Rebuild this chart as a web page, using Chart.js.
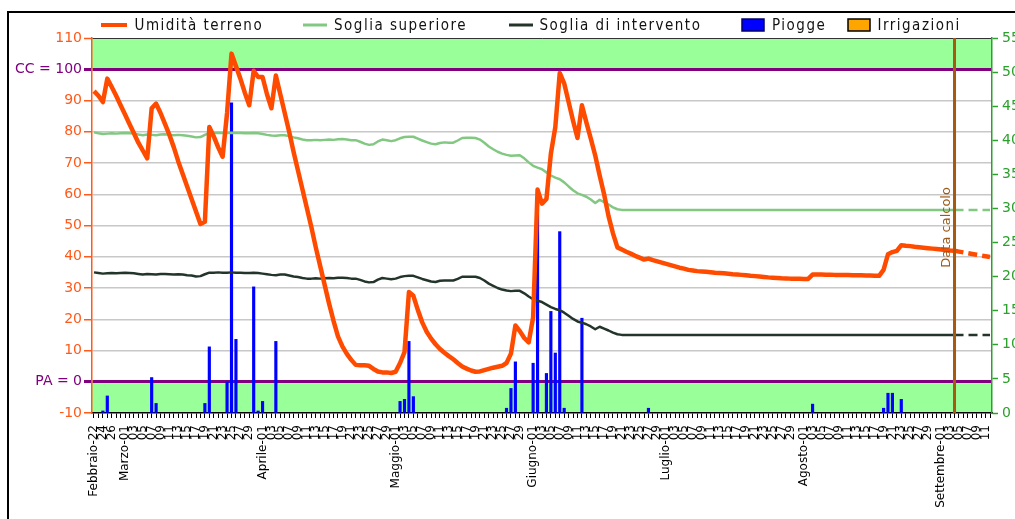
<!DOCTYPE html>
<html lang="it">
<head>
<meta charset="utf-8">
<title>Umidità terreno</title>
<script src="https://cdn.jsdelivr.net/npm/chart.js@4.4.1/dist/chart.umd.min.js"></script>
<style>
  html, body { margin:0; padding:0; background:#ffffff; overflow:hidden; }
  #wrap { position:relative; width:1015px; height:519px; }
  #chart { position:absolute; left:0; top:0; }
  #frame { position:absolute; left:7px; top:11px; width:1100px; height:600px;
           border-left:2px solid #000; border-top:2px solid #000; pointer-events:none; }
</style>
</head>
<body>
<div id="wrap">
  <canvas id="chart" width="1015" height="519"></canvas>
  <div id="frame"></div>
</div>
<script>
// ---------------- data ----------------
const startYear = 2010, startMonth = 1, startDay = 22;   // 22 Febbraio
const nDays = 203;                                         // 22 Feb .. 12 Set
const monthNames = ['Gennaio','Febbraio','Marzo','Aprile','Maggio','Giugno',
                    'Luglio','Agosto','Settembre','Ottobre','Novembre','Dicembre'];

// Umidità terreno (asse sinistro), un valore per giorno
const umidita = [
  93, 91.5, 89.5, 97, 94.3, 91.5, 88.5, 85.5, 82.5, 79.5,
  76.5, 74, 71.5, 87.5, 89, 86, 82.5, 79, 75, 70.5,
  66.5, 62.5, 58.5, 54.5, 50.5, 51.2, 81.5, 78.5, 75, 72,
  86, 105, 101, 97, 92.5, 88.5, 99.5, 97.5, 97.5, 92,
  87.5, 98, 92, 86, 80, 73.5, 67.5, 61.5, 55.5, 49.5,
  43, 37, 31, 25, 19.5, 14.5, 11.3, 8.9, 7, 5.4,
  5.3, 5.3, 5.1, 4.1, 3.3, 3, 3, 2.8, 3.2, 6,
  9.5, 28.7, 27.5, 23, 19, 16, 13.8, 12, 10.5, 9.3,
  8.2, 7.2, 6, 4.9, 4.2, 3.6, 3.2, 3.3, 3.7, 4.1,
  4.5, 4.8, 5.1, 6, 9, 18, 16.2, 14, 12.6, 20.6,
  61.5, 57, 58.5, 73, 81.5, 98.8, 95.5, 89.5, 83.5, 78,
  88.5, 83, 77.8, 72.4, 66, 60, 53, 47.5, 43, 42.3,
  41.6, 41, 40.3, 39.7, 39.1, 39.4, 38.9, 38.5, 38.1, 37.7,
  37.3, 36.9, 36.5, 36.2, 35.8, 35.6, 35.4, 35.3, 35.2, 35.05,
  34.9, 34.8, 34.7, 34.55, 34.4, 34.3, 34.2, 34.05, 33.9, 33.8,
  33.7, 33.55, 33.4, 33.3, 33.2, 33.1, 33.05, 33, 33, 32.95,
  32.9, 32.9, 34.3, 34.3, 34.3, 34.25, 34.25, 34.2, 34.2, 34.2,
  34.15, 34.1, 34.1, 34.05, 34, 34, 33.95, 33.9, 35.8, 40.8,
  41.5, 41.9, 43.7, 43.5, 43.4, 43.2, 43.05, 42.9, 42.75, 42.6,
  42.45, 42.3, 42.15, 42, 41.9, 41.65, 41.4, 41.15, 40.9, 40.65,
  40.4, 40.15, 39.9
];

// Soglia superiore (asse sinistro)
const sogliaSuperiore = [
  79.8, 79.5, 79.3, 79.4, 79.5, 79.4, 79.5, 79.6, 79.5, 79.4,
  79.1, 78.9, 79.1, 79.0, 78.9, 79.1, 79.2, 79.0, 78.9, 79.0,
  78.9, 78.7, 78.5, 78.2, 78.3, 79.0, 79.6, 79.6, 79.7, 79.6,
  79.6, 79.7, 79.6, 79.6, 79.5, 79.5, 79.6, 79.5, 79.3, 79.0,
  78.8, 78.7, 78.9, 78.9, 78.6, 78.2, 77.9, 77.5, 77.3, 77.3,
  77.4, 77.3, 77.4, 77.5, 77.4, 77.6, 77.7, 77.5, 77.3, 77.3,
  76.8, 76.2, 75.8, 76.0, 76.9, 77.5, 77.3, 77.0, 77.3, 77.9,
  78.3, 78.4, 78.4, 77.8, 77.2, 76.7, 76.2, 76.0, 76.4, 76.6,
  76.5, 76.5, 77.2, 78.0, 78.1, 78.1, 78.0, 77.5, 76.5, 75.3,
  74.4, 73.6, 73.0, 72.6, 72.3, 72.4, 72.5, 71.5, 70.2, 69.1,
  68.5, 68.0, 67.0, 66.0, 65.3, 64.8, 63.8, 62.5, 61.3, 60.3,
  59.8, 59.2, 58.3, 57.2, 58.2, 57.5, 56.7, 55.8, 55.2, 55.0,
  55, 55, 55, 55, 55, 55, 55, 55, 55, 55,
  55, 55, 55, 55, 55, 55, 55, 55, 55, 55,
  55, 55, 55, 55, 55, 55, 55, 55, 55, 55,
  55, 55, 55, 55, 55, 55, 55, 55, 55, 55,
  55, 55, 55, 55, 55, 55, 55, 55, 55, 55,
  55, 55, 55, 55, 55, 55, 55, 55, 55, 55,
  55, 55, 55, 55, 55, 55, 55, 55, 55, 55,
  55, 55, 55, 55, 55, 55, 55, 55, 55, 55,
  55, 55, 55
];

// Soglia di intervento (asse sinistro)
const sogliaIntervento = [
  35.0, 34.8, 34.6, 34.7, 34.8, 34.7, 34.8, 34.9, 34.8, 34.7,
  34.5, 34.3, 34.5, 34.4, 34.3, 34.5, 34.5, 34.4, 34.3, 34.4,
  34.3, 34.1, 34.0, 33.7, 33.8, 34.4, 34.9, 34.9, 35.0, 34.9,
  34.9, 35.0, 34.9, 34.9, 34.8, 34.8, 34.9, 34.8, 34.6, 34.4,
  34.2, 34.1, 34.3, 34.3, 34.0, 33.7, 33.5, 33.2, 33.0, 33.0,
  33.1, 33.0, 33.1, 33.2, 33.1, 33.3, 33.3, 33.2, 33.0, 33.0,
  32.6, 32.1, 31.8, 31.9, 32.7, 33.2, 33.0, 32.8, 33.0, 33.5,
  33.8, 33.9, 33.9, 33.4, 32.9, 32.5, 32.1, 31.9, 32.3, 32.4,
  32.4, 32.4, 32.9, 33.6, 33.6, 33.6, 33.6, 33.2, 32.4, 31.4,
  30.7, 30.0, 29.5, 29.2, 29.0, 29.1, 29.1, 28.3, 27.3, 26.4,
  25.9, 25.5, 24.7, 23.9, 23.3, 22.9, 22.1, 21.1, 20.1, 19.3,
  18.9, 18.4, 17.7, 16.8, 17.6, 17.0, 16.4, 15.7, 15.2, 15.0,
  15, 15, 15, 15, 15, 15, 15, 15, 15, 15,
  15, 15, 15, 15, 15, 15, 15, 15, 15, 15,
  15, 15, 15, 15, 15, 15, 15, 15, 15, 15,
  15, 15, 15, 15, 15, 15, 15, 15, 15, 15,
  15, 15, 15, 15, 15, 15, 15, 15, 15, 15,
  15, 15, 15, 15, 15, 15, 15, 15, 15, 15,
  15, 15, 15, 15, 15, 15, 15, 15, 15, 15,
  15, 15, 15, 15, 15, 15, 15, 15, 15, 15,
  15, 15, 15
];

// Piogge (asse destro, mm): giorno (indice dal 22 Feb) e quantità
const pioggeGiorni = [2, 3, 13, 14, 25, 26, 30, 31, 32, 36, 37, 38, 41,
                      69, 70, 71, 72, 93, 94, 95, 99, 100, 102, 103, 104, 105, 106, 110,
                      125, 162, 178, 179, 180, 182];
const pioggeMm     = [0.3, 2.5, 5.2, 1.4, 1.4, 9.7, 4.6, 45.5, 10.8, 18.5, 0.3, 1.7, 10.5,
                      1.7, 2.0, 10.5, 2.4, 0.7, 3.6, 7.5, 7.3, 32.7, 5.8, 14.9, 8.8, 26.6, 0.7, 13.9,
                      0.7, 1.3, 0.7, 2.9, 2.9, 2.0];

// Irrigazioni (nessuna)
const irrigazioniGiorni = [];
const irrigazioniMm = [];

const dataCalcolo = 194;          // indice del giorno "Data calcolo"
const CC = 100, PA = 0;           // capacità di campo / punto di appassimento

// ---------------- categories / tick labels ----------------
const tickLabels = [];
for (let i = 0; i < nDays; i++) {
  const d = new Date(startYear, startMonth, startDay + i);
  const day = d.getDate(), m = d.getMonth();
  const lastDay = new Date(startYear, m + 1, 0).getDate();
  const first = (m === startMonth) ? startDay : 1;
  const dd = String(day).padStart(2, '0');
  let lab = '';
  if (i === 0 || day === 1) lab = monthNames[m] + '-' + dd;
  else if ((day - first) % 2 === 0 && day !== lastDay) lab = dd;
  tickLabels.push(lab);
}

// ---------------- styles ----------------
const ORANGE = '#FF4B00';
const AXIS_ORANGE = '#FF5A1A';
const LGREEN = '#82C882';
const DARK = '#23352A';
const PURPLE = '#800080';
const BAND = '#99FF99';
const RGREEN = '#2CA02C';
const BROWN = '#A65A0F';

const dashAfter = ctx => (ctx.p0.parsed.x >= dataCalcolo ? [9, 5] : undefined);
const toXY = arr => arr.map((v, i) => ({ x: i, y: v }));
const isLimit = c => c && c.tick && (c.tick.value === CC || c.tick.value === PA);
const isEdge = c => c && c.tick && (c.tick.value === -10 || c.tick.value === 110);

// ---------------- plugins ----------------
const bandsPlugin = {
  id: 'bands',
  beforeDraw(chart) {
    const { ctx, chartArea: a, scales: { y } } = chart;
    ctx.save();
    ctx.fillStyle = '#ffffff';
    ctx.fillRect(0, 0, chart.width, chart.height);
    ctx.fillStyle = BAND;
    const yTop = y.getPixelForValue(y.max), yCC = y.getPixelForValue(CC);
    const yPA = y.getPixelForValue(PA), yBot = y.getPixelForValue(y.min);
    ctx.fillRect(a.left, yTop, a.right - a.left, yCC - yTop);
    ctx.fillRect(a.left, yPA, a.right - a.left, yBot - yPA);
    ctx.restore();
  }
};

const calcoloPlugin = {
  id: 'calcolo',
  afterDatasetsDraw(chart) {
    const { ctx, chartArea: a, scales: { x } } = chart;
    const px = x.getPixelForValue(dataCalcolo);
    ctx.save();
    ctx.strokeStyle = BROWN;
    ctx.lineWidth = 3;
    ctx.beginPath();
    ctx.moveTo(px, a.top);
    ctx.lineTo(px, a.bottom);
    ctx.stroke();
    ctx.translate(px - 8, a.top + (a.bottom - a.top) * 0.505);
    ctx.rotate(-Math.PI / 2);
    ctx.fillStyle = '#9B5A1A';
    ctx.font = '13px "DejaVu Sans"';
    ctx.textAlign = 'center';
    ctx.textBaseline = 'middle';
    ctx.fillText('Data calcolo', 0, 0);
    ctx.restore();
  }
};

const legendPos = [
  { sx: 101, sw: 26, tx: 134.5 },
  { sx: 303, sw: 24, tx: 334 },
  { sx: 509, sw: 24, tx: 539.5 },
  { sx: 742, sw: 22, tx: 772 },
  { sx: 848, sw: 22, tx: 877.5 }
];
const legendPlugin = {
  id: 'topLegend',
  afterDraw(chart) {
    const { ctx } = chart;
    const yc = 25;
    ctx.save();
    ctx.font = '15px "DejaVu Sans Condensed", "DejaVu Sans"';
    if ('letterSpacing' in ctx) ctx.letterSpacing = '1.5px';
    ctx.textBaseline = 'middle';
    ctx.textAlign = 'left';
    chart.data.datasets.forEach((ds, i) => {
      const p = legendPos[i];
      if (ds.type === 'line') {
        ctx.strokeStyle = ds.borderColor;
        ctx.lineWidth = ds.legendWidth;
        ctx.beginPath();
        ctx.moveTo(p.sx, yc);
        ctx.lineTo(p.sx + p.sw, yc);
        ctx.stroke();
      } else {
        ctx.fillStyle = ds.backgroundColor;
        ctx.fillRect(p.sx, yc - 6, p.sw, 12);
        ctx.strokeStyle = ds.legendBorder;
        ctx.lineWidth = 1.5;
        ctx.strokeRect(p.sx, yc - 6, p.sw, 12);
      }
      ctx.fillStyle = '#111';
      ctx.fillText(ds.label, p.tx, yc + 1);
    });
    ctx.restore();
  }
};

// ---------------- chart ----------------
new Chart(document.getElementById('chart'), {
  type: 'line',
  data: {
    datasets: [
      { type: 'line', label: 'Umidità terreno', data: toXY(umidita), yAxisID: 'y',
        borderColor: ORANGE, borderWidth: 4.5, legendWidth: 4, pointRadius: 0, tension: 0,
        borderJoinStyle: 'round', segment: { borderDash: dashAfter } },
      { type: 'line', label: 'Soglia superiore', data: toXY(sogliaSuperiore), yAxisID: 'y',
        borderColor: LGREEN, borderWidth: 2.5, legendWidth: 3, pointRadius: 0, tension: 0,
        borderJoinStyle: 'round', segment: { borderDash: dashAfter } },
      { type: 'line', label: 'Soglia di intervento', data: toXY(sogliaIntervento), yAxisID: 'y',
        borderColor: DARK, borderWidth: 2.5, legendWidth: 3, pointRadius: 0, tension: 0,
        borderJoinStyle: 'round', segment: { borderDash: dashAfter } },
      { type: 'bar', label: 'Piogge', yAxisID: 'y2',
        data: pioggeGiorni.map((d, k) => ({ x: d, y: pioggeMm[k] })),
        backgroundColor: '#0000FF', legendBorder: '#000066', borderWidth: 0,
        barThickness: 2.5, grouped: false },
      { type: 'bar', label: 'Irrigazioni', yAxisID: 'y2',
        data: irrigazioniGiorni.map((d, k) => ({ x: d, y: irrigazioniMm[k] })),
        backgroundColor: '#FFA500', legendBorder: '#000000', borderWidth: 0,
        barThickness: 2.5, grouped: false }
    ]
  },
  options: {
    responsive: false,
    animation: false,
    devicePixelRatio: 1,
    layout: { padding: { top: 38, left: 0, right: 0, bottom: 0 } },
    plugins: { legend: { display: false }, tooltip: { enabled: false } },
    scales: {
      x: {
        type: 'linear', min: -0.45, max: nDays - 1 + 0.45, offset: false,
        afterBuildTicks(s) { s.ticks = tickLabels.map((_, i) => ({ value: i })); },
        afterFit(s) { s.height = 106; },
        ticks: {
          autoSkip: false, minRotation: 90, maxRotation: 90, padding: 7,
          color: '#000', font: { family: 'DejaVu Sans', size: 12 },
          callback: v => tickLabels[v] ?? ''
        },
        grid: { drawOnChartArea: false, drawTicks: true, tickLength: 5, tickColor: '#000',
                tickWidth: 1, offset: false },
        border: { color: '#000', width: 1.5 }
      },
      y: {
        position: 'left', min: -10, max: 110,
        afterFit(s) { s.width = 92; },
        ticks: {
          stepSize: 10, padding: 2,
          font: { family: 'DejaVu Sans', size: 14 },
          color: c => isLimit(c) ? PURPLE : AXIS_ORANGE,
          callback: v => v === CC ? 'CC = ' + v : (v === PA ? 'PA = ' + v : String(v))
        },
        grid: {
          color: c => isLimit(c) ? PURPLE : (c && c.tick && c.tick.value === 110 ? '#333333'
                      : (isEdge(c) ? 'rgba(0,0,0,0)' : '#C8C8C8')),
          lineWidth: c => isLimit(c) ? 3 : (c && c.tick && c.tick.value === 110 ? 1 : 1.5),
          tickColor: c => isLimit(c) ? PURPLE : AXIS_ORANGE,
          tickWidth: c => isLimit(c) ? 3 : 1.5,
          tickLength: 8
        },
        border: { color: AXIS_ORANGE, width: 1.5 }
      },
      y2: {
        position: 'right', min: 0, max: 55,
        afterFit(s) { s.width = 23; },
        ticks: { stepSize: 5, padding: 4, color: RGREEN,
                 font: { family: 'DejaVu Sans', size: 14 } },
        grid: { drawOnChartArea: false, tickLength: 6, tickColor: RGREEN, tickWidth: 1.5 },
        border: { color: RGREEN, width: 1.5 }
      }
    }
  },
  plugins: [bandsPlugin, calcoloPlugin, legendPlugin]
});
</script>
</body>
</html>
